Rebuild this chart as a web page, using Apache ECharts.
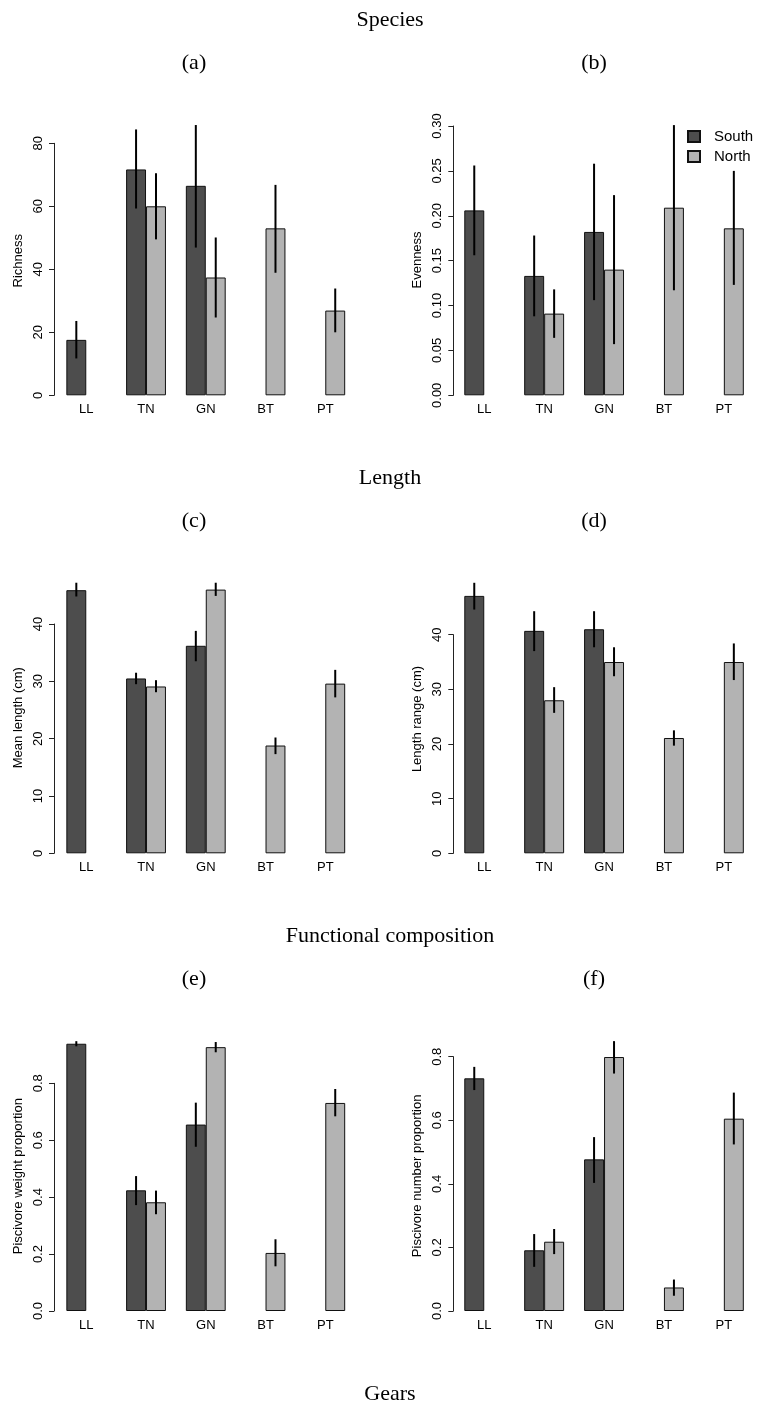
<!DOCTYPE html>
<html><head><meta charset="utf-8">
<script src="https://cdn.jsdelivr.net/npm/echarts@6/dist/echarts.min.js"></script>
<style>html,body{margin:0;padding:0;background:#fff}#chart{width:758px;height:1405px}</style>
</head><body><div id="chart"></div>
<script>
// ---------------- data ----------------
const categories = ['LL', 'TN', 'GN', 'BT', 'PT'];
const groupNames = ['South', 'North'];
const sectionTitles = ['Species', 'Length', 'Functional composition', 'Gears'];
const panelLabels = ['(a)', '(b)', '(c)', '(d)', '(e)', '(f)'];
const yNames = ['Richness', 'Evenness', 'Mean length (cm)', 'Length range (cm)', 'Piscivore weight proportion', 'Piscivore number proportion'];

// tick labels of each panel's y axis
const richnessTicks = [0, 20, 40, 60, 80];
const evennessTicks = [0, 0.05, 0.10, 0.15, 0.20, 0.25, 0.30];
const meanLengthTicks = [0, 10, 20, 30, 40];
const lengthRangeTicks = [0, 10, 20, 30, 40];
const weightTicks = [0, 0.2, 0.4, 0.6, 0.8];
const numberTicks = [0, 0.2, 0.4, 0.6, 0.8];

// (a) Richness
const richnessSouth     = [17.6, 71.7, 66.5, null, null];
const richnessSouthLow  = [11.7, 59.3, 46.9, null, null];
const richnessSouthHigh = [23.6, 84.4, 85.8, null, null];
const richnessNorth     = [null, 60.0, 37.4, 53.0, 26.9];
const richnessNorthLow  = [null, 49.5, 24.7, 38.9, 20.0];
const richnessNorthHigh = [null, 70.5, 50.1, 66.8, 33.9];

// (b) Evenness
const evennessSouth     = [0.206, 0.133, 0.182, null, null];
const evennessSouthLow  = [0.156, 0.088, 0.106, null, null];
const evennessSouthHigh = [0.256, 0.178, 0.258, null, null];
const evennessNorth     = [null, 0.091, 0.140, 0.209, 0.186];
const evennessNorthLow  = [null, 0.064, 0.057, 0.117, 0.123];
const evennessNorthHigh = [null, 0.118, 0.223, 0.301, 0.250];

// (c) Mean length
const meanLengthSouth     = [45.9, 30.5, 36.2, null, null];
const meanLengthSouthLow  = [44.8, 29.5, 33.5, null, null];
const meanLengthSouthHigh = [47.2, 31.5, 38.8, null, null];
const meanLengthNorth     = [null, 29.1, 46.0, 18.8, 29.6];
const meanLengthNorthLow  = [null, 28.1, 44.9, 17.3, 27.2];
const meanLengthNorthHigh = [null, 30.2, 47.2, 20.2, 32.0];

// (d) Length range
const lengthRangeSouth     = [47.1, 40.7, 41.0, null, null];
const lengthRangeSouthLow  = [44.6, 37.0, 37.7, null, null];
const lengthRangeSouthHigh = [49.5, 44.3, 44.3, null, null];
const lengthRangeNorth     = [null, 28.0, 35.0, 21.1, 35.0];
const lengthRangeNorthLow  = [null, 25.7, 32.4, 19.7, 31.7];
const lengthRangeNorthHigh = [null, 30.4, 37.7, 22.5, 38.4];

// (e) Piscivore weight proportion
const weightSouth     = [0.939, 0.424, 0.655, null, null];
const weightSouthLow  = [0.930, 0.372, 0.577, null, null];
const weightSouthHigh = [0.948, 0.474, 0.732, null, null];
const weightNorth     = [null, 0.382, 0.927, 0.204, 0.731];
const weightNorthLow  = [null, 0.340, 0.909, 0.157, 0.684];
const weightNorthHigh = [null, 0.423, 0.945, 0.252, 0.780];

// (f) Piscivore number proportion
const numberSouth     = [0.732, 0.191, 0.477, null, null];
const numberSouthLow  = [0.695, 0.139, 0.403, null, null];
const numberSouthHigh = [0.768, 0.242, 0.547, null, null];
const numberNorth     = [null, 0.218, 0.799, 0.074, 0.605];
const numberNorthLow  = [null, 0.179, 0.747, 0.048, 0.524];
const numberNorthHigh = [null, 0.258, 0.849, 0.099, 0.687];

// ---------------- build ----------------
const panels = [
  {ticks: richnessTicks, dec: 0, s: [richnessSouth, richnessSouthLow, richnessSouthHigh], n: [richnessNorth, richnessNorthLow, richnessNorthHigh]},
  {ticks: evennessTicks, dec: 2, s: [evennessSouth, evennessSouthLow, evennessSouthHigh], n: [evennessNorth, evennessNorthLow, evennessNorthHigh]},
  {ticks: meanLengthTicks, dec: 0, s: [meanLengthSouth, meanLengthSouthLow, meanLengthSouthHigh], n: [meanLengthNorth, meanLengthNorthLow, meanLengthNorthHigh]},
  {ticks: lengthRangeTicks, dec: 0, s: [lengthRangeSouth, lengthRangeSouthLow, lengthRangeSouthHigh], n: [lengthRangeNorth, lengthRangeNorthLow, lengthRangeNorthHigh]},
  {ticks: weightTicks, dec: 1, s: [weightSouth, weightSouthLow, weightSouthHigh], n: [weightNorth, weightNorthLow, weightNorthHigh]},
  {ticks: numberTicks, dec: 1, s: [numberSouth, numberSouthLow, numberSouthHigh], n: [numberNorth, numberNorthLow, numberNorthHigh]}
];

// layout (pixel boxes of each plotting area)
const layout = [
  {left: 56.4, top: 143.3, width: 298.75, height: 252.0, offset: 2.4, shift: 8.6},
  {left: 454.3, top: 126.0, width: 299.5, height: 269.3, offset: 1.0, shift: 0.7},
  {left: 56.4, top: 624.0, width: 298.75, height: 229.3, offset: 2.4, shift: 21},
  {left: 454.3, top: 634.7, width: 299.5, height: 218.6, offset: 1.0, shift: 25},
  {left: 56.4, top: 1083.3, width: 298.75, height: 227.7, offset: 2.4, shift: 21},
  {left: 454.3, top: 1056.7, width: 299.5, height: 254.3, offset: 1.0, shift: 8}
];

const SANS = '"Liberation Sans", Arial, sans-serif';
const SERIF = '"Liberation Serif", "DejaVu Serif", serif';
const colSouth = '#4d4d4d';
const colNorth = '#b3b3b3';

const grid = [], xAxis = [], yAxis = [], series = [];

function errSeries(idx, low, high, side) {
  const data = [];
  low.forEach((v, i) => { if (v != null) data.push([i, v, high[i]]); });
  return {
    type: 'custom', xAxisIndex: idx, yAxisIndex: idx, clip: false, silent: true, z: 10,
    encode: {x: 0, y: [1, 2]},
    data,
    renderItem(params, api) {
      const i = api.value(0);
      const p1 = api.coord([i, api.value(1)]);
      const p2 = api.coord([i, api.value(2)]);
      const band = api.size([1, 0])[0];
      const x = p1[0] + side * band / 6;
      return {type: 'line', shape: {x1: x, y1: p1[1], x2: x, y2: p2[1]}, style: {stroke: '#000', lineWidth: 2}};
    }
  };
}

panels.forEach((p, k) => {
  const L = layout[k];
  grid.push({left: L.left, top: L.top, width: L.width, height: L.height, containLabel: false, outerBoundsMode: 'none'});
  xAxis.push({
    type: 'category', gridIndex: k, data: categories,
    axisLine: {show: false}, axisTick: {show: false}, splitLine: {show: false},
    axisLabel: {interval: 0, margin: 8, fontSize: 13, color: '#000', fontFamily: SANS}
  });
  const tk = p.ticks;
  yAxis.push({
    type: 'value', gridIndex: k, min: tk[0], max: tk[tk.length - 1], interval: tk[1] - tk[0],
    offset: L.offset,
    axisLine: {show: true, lineStyle: {color: '#222', width: 1}},
    axisTick: {show: true, length: 5, lineStyle: {color: '#222', width: 1}},
    splitLine: {show: false},
    axisLabel: {rotate: 90, margin: 9, fontSize: 13, color: '#000', fontFamily: SANS,
      formatter: v => Number(v).toFixed(p.dec)},
    name: yNames[k], nameLocation: 'middle', nameGap: 29.5,
    nameTextStyle: {fontSize: 13, color: '#000', fontFamily: SANS, padding: [0, 0, 0, 2 * L.shift]}
  });
  [[p.s, colSouth, 0, -1], [p.n, colNorth, 1, 1]].forEach(([arr, col, gi, side]) => {
    series.push({
      type: 'bar', name: groupNames[gi], xAxisIndex: k, yAxisIndex: k,
      data: arr[0].map(v => v == null ? '-' : v),
      barGap: '0%', barCategoryGap: '33.333%', clip: false, silent: true,
      itemStyle: {color: col, borderColor: '#111', borderWidth: 1}
    });
  });
  series.push(errSeries(k, p.s[1], p.s[2], -1));
  series.push(errSeries(k, p.n[1], p.n[2], 1));
});

// titles as text
const titleY = [20, 478, 936, 1394];
const labelY = [63, 521, 979];
const graphic = [];
sectionTitles.forEach((t, i) => graphic.push({
  type: 'text', x: 390, y: titleY[i],
  style: {text: t, font: '22px ' + SERIF, fill: '#000', textAlign: 'center', textVerticalAlign: 'middle', align: 'center', verticalAlign: 'middle'}
}));
panelLabels.forEach((t, i) => graphic.push({
  type: 'text', x: i % 2 === 0 ? 194 : 594, y: labelY[Math.floor(i / 2)],
  style: {text: t, font: '22px ' + SERIF, fill: '#000', textAlign: 'center', textVerticalAlign: 'middle', align: 'center', verticalAlign: 'middle'}
}));

const chart = echarts.init(document.getElementById('chart'), null, {renderer: 'canvas'});
chart.setOption({
  animation: false,
  backgroundColor: '#fff',
  grid, xAxis, yAxis, series, graphic,
  legend: {
    data: groupNames, orient: 'vertical', left: 687, top: 129, padding: 0,
    itemWidth: 12, itemHeight: 11, itemGap: 5, icon: 'rect', selectedMode: false,
    textStyle: {fontSize: 15, color: '#000', fontFamily: SANS, padding: [0, 0, 0, 9]}
  }
});
</script>
</body></html>
